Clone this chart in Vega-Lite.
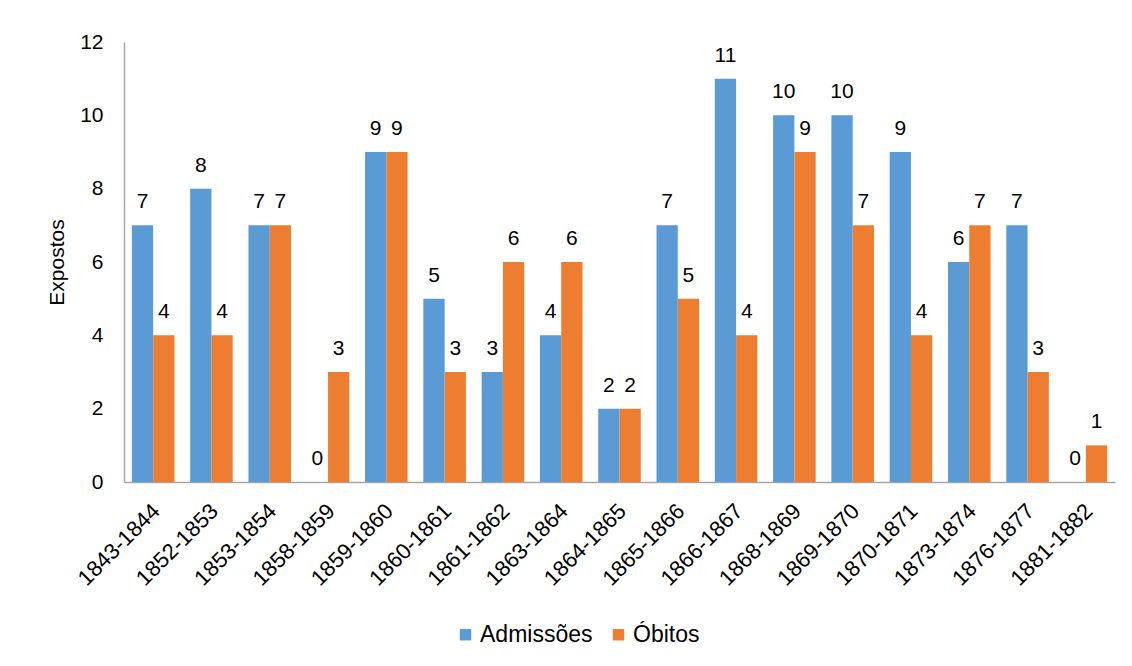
{
  "$schema": "https://vega.github.io/schema/vega-lite/v6.json",
  "width": 991,
  "height": 440,
  "autosize": {"type": "none"},
  "padding": {"left": 124, "top": 42, "right": 17, "bottom": 184},
  "background": "white",
  "config": {
    "font": "Liberation Sans",
    "view": {"stroke": null},
    "axis": {"labelFont": "Liberation Sans", "titleFont": "Liberation Sans", "labelColor": "#000000", "titleColor": "#000000"}
  },
  "data": {
    "values": [
      {"periodo": "1843-1844", "serie": "Admissões", "valor": 7},
      {"periodo": "1843-1844", "serie": "Óbitos", "valor": 4},
      {"periodo": "1852-1853", "serie": "Admissões", "valor": 8},
      {"periodo": "1852-1853", "serie": "Óbitos", "valor": 4},
      {"periodo": "1853-1854", "serie": "Admissões", "valor": 7},
      {"periodo": "1853-1854", "serie": "Óbitos", "valor": 7},
      {"periodo": "1858-1859", "serie": "Admissões", "valor": 0},
      {"periodo": "1858-1859", "serie": "Óbitos", "valor": 3},
      {"periodo": "1859-1860", "serie": "Admissões", "valor": 9},
      {"periodo": "1859-1860", "serie": "Óbitos", "valor": 9},
      {"periodo": "1860-1861", "serie": "Admissões", "valor": 5},
      {"periodo": "1860-1861", "serie": "Óbitos", "valor": 3},
      {"periodo": "1861-1862", "serie": "Admissões", "valor": 3},
      {"periodo": "1861-1862", "serie": "Óbitos", "valor": 6},
      {"periodo": "1863-1864", "serie": "Admissões", "valor": 4},
      {"periodo": "1863-1864", "serie": "Óbitos", "valor": 6},
      {"periodo": "1864-1865", "serie": "Admissões", "valor": 2},
      {"periodo": "1864-1865", "serie": "Óbitos", "valor": 2},
      {"periodo": "1865-1866", "serie": "Admissões", "valor": 7},
      {"periodo": "1865-1866", "serie": "Óbitos", "valor": 5},
      {"periodo": "1866-1867", "serie": "Admissões", "valor": 11},
      {"periodo": "1866-1867", "serie": "Óbitos", "valor": 4},
      {"periodo": "1868-1869", "serie": "Admissões", "valor": 10},
      {"periodo": "1868-1869", "serie": "Óbitos", "valor": 9},
      {"periodo": "1869-1870", "serie": "Admissões", "valor": 10},
      {"periodo": "1869-1870", "serie": "Óbitos", "valor": 7},
      {"periodo": "1870-1871", "serie": "Admissões", "valor": 9},
      {"periodo": "1870-1871", "serie": "Óbitos", "valor": 4},
      {"periodo": "1873-1874", "serie": "Admissões", "valor": 6},
      {"periodo": "1873-1874", "serie": "Óbitos", "valor": 7},
      {"periodo": "1876-1877", "serie": "Admissões", "valor": 7},
      {"periodo": "1876-1877", "serie": "Óbitos", "valor": 3},
      {"periodo": "1881-1882", "serie": "Admissões", "valor": 0},
      {"periodo": "1881-1882", "serie": "Óbitos", "valor": 1}
    ]
  },
  "encoding": {
    "x": {
      "field": "periodo",
      "type": "nominal",
      "sort": null,
      "scale": {"paddingInner": 0.27, "paddingOuter": 0.135},
      "axis": {
        "title": null,
        "labelAngle": -45,
        "labelFontSize": 22,
        "labelPadding": 18,
        "labelOffset": -4,
        "ticks": false,
        "domainColor": "#a6a6a6",
        "domainWidth": 1.5,
        "labelLimit": 0
      }
    },
    "xOffset": {"field": "serie", "type": "nominal", "sort": ["Admissões", "Óbitos"], "scale": {"paddingInner": 0, "paddingOuter": 0}},
    "y": {
      "field": "valor",
      "type": "quantitative",
      "scale": {"domain": [0, 12], "nice": false},
      "axis": {
        "title": "Expostos",
        "titleFontSize": 21,
        "titleFontWeight": "normal",
        "titlePadding": 12,
        "labelFontSize": 21,
        "labelPadding": 21,
        "ticks": false,
        "grid": false,
        "values": [0, 2, 4, 6, 8, 10, 12],
        "domainColor": "#a6a6a6",
        "domainWidth": 1.5
      }
    }
  },
  "layer": [
    {
      "mark": {"type": "bar"},
      "encoding": {
        "color": {
          "field": "serie",
          "type": "nominal",
          "sort": ["Admissões", "Óbitos"],
          "scale": {"domain": ["Admissões", "Óbitos"], "range": ["#5b9bd5", "#ed7d31"]},
          "legend": {
            "title": null,
            "orient": "none",
            "direction": "horizontal",
            "legendX": 330,
            "legendY": 581,
            "symbolType": "square",
            "symbolSize": 130,
            "symbolStrokeWidth": 0,
            "labelFontSize": 23,
            "labelFont": "Liberation Sans",
            "labelColor": "#000000",
            "columnPadding": 14,
            "labelOffset": 3,
            "labelLimit": 0
          }
        }
      }
    },
    {
      "mark": {"type": "text", "baseline": "alphabetic", "dy": -17, "fontSize": 21, "color": "#000000", "font": "Liberation Sans"},
      "encoding": {"text": {"field": "valor", "type": "quantitative"}}
    }
  ]
}
